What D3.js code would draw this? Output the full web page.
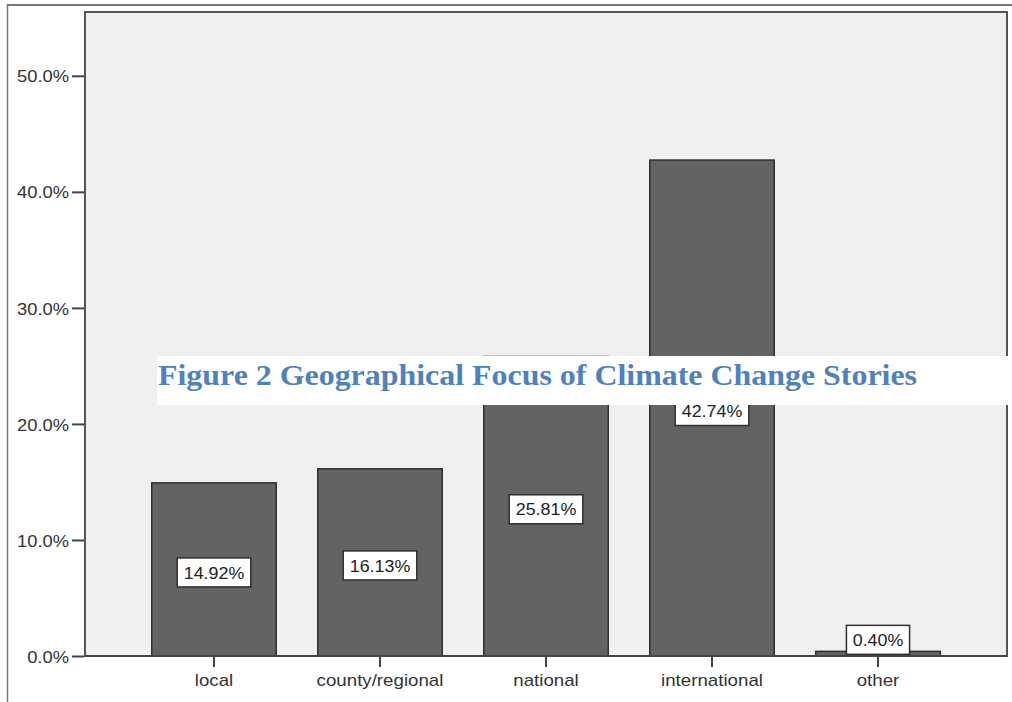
<!DOCTYPE html>
<html>
<head>
<meta charset="utf-8">
<script src="https://cdn.jsdelivr.net/npm/d3@7"></script>
<style>
  html, body { margin: 0; padding: 0; background: #fff; }
  svg { display: block; }
</style>
</head>
<body>
<svg id="chart" width="1012" height="702"></svg>
<script>
// Geographical focus of climate change stories (percent of stories)
const categories = ["local", "county/regional", "national", "international", "other"];
const percentages = [14.92, 16.13, 25.81, 42.74, 0.40];
const yTicks = [0, 10, 20, 30, 40, 50];
const titleText = "Figure 2 Geographical Focus of Climate Change Stories";

const svg = d3.select("#chart");
const W = 1012, H = 702;
const SANS = "Liberation Sans, Arial, sans-serif";
const STRETCH = 1.08; // slightly wide sans lettering

// widen a text element horizontally while keeping its anchor
function widen(sel, k) {
  sel.each(function () {
    const len = this.getComputedTextLength();
    d3.select(this).attr("textLength", len * k).attr("lengthAdjust", "spacingAndGlyphs");
  });
}

// plot frame
const plot = { left: 85, top: 12, right: 1007, bottom: 656 };

// outer frame lines
svg.append("line").attr("x1", 7).attr("x2", W).attr("y1", 5).attr("y2", 5)
  .attr("stroke", "#777").attr("stroke-width", 2);
svg.append("line").attr("x1", 7.5).attr("x2", 7.5).attr("y1", 5).attr("y2", H)
  .attr("stroke", "#777").attr("stroke-width", 1.5);

const y = d3.scaleLinear().domain([0, 55.5]).range([plot.bottom, plot.top]);
const x = d3.scaleBand().domain(categories).range([131, 961]).paddingInner(0.25).paddingOuter(0.125);

// plot background
svg.append("rect")
  .attr("x", plot.left).attr("y", plot.top)
  .attr("width", plot.right - plot.left).attr("height", plot.bottom - plot.top)
  .attr("fill", "#f0f0f0").attr("stroke", "#555").attr("stroke-width", 2);

// bars
svg.append("g").selectAll("rect")
  .data(percentages)
  .join("rect")
  .attr("x", (d, i) => x(categories[i]))
  .attr("y", d => y(d))
  .attr("width", x.bandwidth())
  .attr("height", d => plot.bottom - y(d))
  .attr("fill", "#636363")
  .attr("stroke", "#2f2f2f")
  .attr("stroke-width", 1.5);

// baseline
svg.append("line").attr("x1", plot.left).attr("x2", plot.right)
  .attr("y1", plot.bottom).attr("y2", plot.bottom)
  .attr("stroke", "#444").attr("stroke-width", 2);

// y axis
const yAxis = d3.axisLeft(y).tickValues(yTicks).tickSize(12).tickPadding(3)
  .tickFormat(d => d.toFixed(1) + "%");
const gy = svg.append("g").attr("transform", `translate(${plot.left - 1},0)`).call(yAxis);
gy.select(".domain").remove();
gy.selectAll(".tick line").attr("stroke", "#444").attr("stroke-width", 2);
gy.selectAll(".tick text")
  .attr("font-family", SANS)
  .attr("font-size", 17).attr("fill", "#333")
  .attr("dy", "0.36em")
  .call(widen, STRETCH);

// x axis
const xAxis = d3.axisBottom(x).tickSize(11).tickPadding(5);
const gx = svg.append("g").attr("transform", `translate(0,${plot.bottom})`).call(xAxis);
gx.select(".domain").remove();
gx.selectAll(".tick line").attr("stroke", "#444").attr("stroke-width", 2);
gx.selectAll(".tick text")
  .attr("font-family", SANS)
  .attr("font-size", 17).attr("fill", "#333")
  .attr("dy", "0.82em")
  .call(widen, 1.1);

// value labels in white boxes
const labels = svg.append("g").selectAll("g")
  .data(percentages)
  .join("g")
  .attr("transform", (d, i) => {
    const cx = x(categories[i]) + x.bandwidth() / 2;
    const barH = plot.bottom - y(d);
    const cy = barH > 40 ? y(d) + barH / 2 + 3 : y(d) - 11.5;
    return `translate(${cx},${cy})`;
  });
const labelRects = labels.append("rect")
  .attr("fill", "#fff").attr("stroke", "#2f2f2f").attr("stroke-width", 1.5);
const labelTexts = labels.append("text")
  .attr("text-anchor", "middle").attr("dy", "0.36em")
  .attr("font-family", SANS)
  .attr("font-size", 17).attr("fill", "#222")
  .text(d => d.toFixed(2) + "%")
  .call(widen, 1.05);
labelTexts.each(function (d, i) {
  const w = this.getComputedTextLength() * 1.05 + 10;
  d3.select(labelRects.nodes()[i])
    .attr("x", -w / 2).attr("y", -14.5).attr("width", w).attr("height", 29);
});

// caption band
svg.append("rect").attr("x", 157).attr("y", 356).attr("width", W - 157).attr("height", 49)
  .attr("fill", "#fff");
svg.append("text")
  .attr("x", 158).attr("y", 385)
  .attr("font-family", "Liberation Serif, Times New Roman, serif")
  .attr("font-weight", "bold").attr("font-size", 30)
  .attr("fill", "#4f81bd")
  .attr("textLength", 759).attr("lengthAdjust", "spacingAndGlyphs")
  .text(titleText);
</script>
</body>
</html>
